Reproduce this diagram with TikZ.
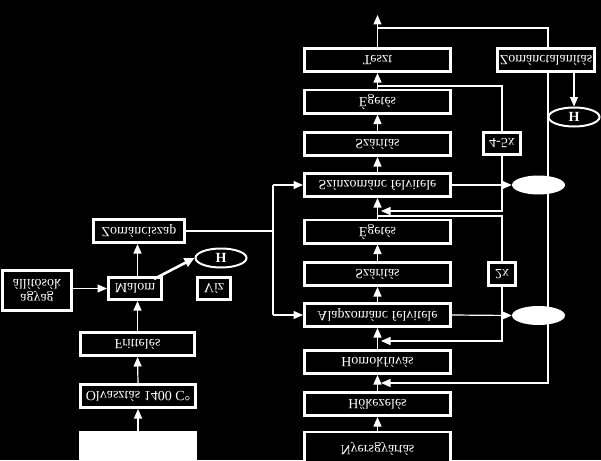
\documentclass[tikz,border=0pt]{standalone}
\usepackage{fontspec}
\setmainfont{Liberation Serif}
\usepackage{graphicx}
\usetikzlibrary{arrows.meta,shapes.geometric}
\pgfdeclarelayer{back}
\pgfdeclarelayer{bg}
\pgfsetlayers{back,bg,main}
\newcommand{\flp}[1]{\scalebox{1}[-1]{#1}}
\begin{document}
\begin{tikzpicture}[x=1pt,y=-1pt,
  box/.style={draw=white, line width=2.6pt, fill=black, text=white, inner sep=0pt, font=\fontsize{14}{16}\selectfont},
  rbox/.style={box, minimum width=146.4pt, minimum height=23.4pt},
  con/.style={draw=white, line width=1.2pt},
  arr/.style={con, -{Triangle[width=8pt,length=9.5pt]}},
  ell/.style={ellipse, draw=white, line width=2pt, fill=black, text=white, inner sep=0pt, font=\fontsize{14}{16}\selectfont\bfseries},
  blob/.style={ellipse, fill=white, inner sep=0pt, minimum width=53pt, minimum height=19pt}]
\begin{pgfonlayer}{back}
\fill[black] (0,0) rectangle (601,460);
\end{pgfonlayer}
\useasboundingbox (0,0) rectangle (601,460);
% right column
\node[rbox] (teszt) at (377.5,60) {\flp{Teszt}};
\node[rbox] (eg1) at (377.5,101.5) {\flp{Égetés}};
\node[rbox] (sz1) at (377.5,144) {\flp{Szárítás}};
\node[rbox] (szin) at (377.5,185) {\flp{Színzománc felvitele}};
\node[rbox] (eg2) at (377.5,231.5) {\flp{Égetés}};
\node[rbox] (sz2) at (377.5,274) {\flp{Szárítás}};
\node[rbox] (alap) at (377.5,315) {\flp{Alapzománc felvitele}};
\node[rbox] (homok) at (377.5,362) {\flp{Homokfúvás}};
\node[rbox] (hok) at (377.5,404) {\flp{Hőkezelés}};
\node[rbox, minimum height=34pt] (nyers) at (377.5,449) {\raisebox{2pt}{\flp{Nyersgyártás}}};
% left column
\node[box, fill=white, minimum width=115.4pt, minimum height=34pt] (feh) at (138,449) {};
\node[box, minimum width=115.4pt, minimum height=23.4pt] (olv) at (138,396) {\flp{Olvasztás 1400 C°}};
\node[box, minimum width=114.4pt, minimum height=23.4pt] (frit) at (137.5,344) {\flp{Frittelés}};
\node[box, minimum width=53.4pt, minimum height=22.4pt] (malom) at (135,288.5) {\flp{Malom}};
\node[box, minimum width=91.4pt, minimum height=23.4pt] (zsz) at (139,231) {\flp{Zománciszap}};
\node[box, minimum width=69.4pt, minimum height=40.4pt, align=center] (allit) at (37,290.5) {\flp{\begin{tabular}{@{}c@{}}agyag\\[-1pt]állítósók\end{tabular}}};
\node[box, minimum width=33.4pt, minimum height=22.4pt] (viz) at (214,288.5) {\flp{Víz}};
\node[ell, minimum width=51pt, minimum height=19pt] (h1) at (221,258) {H};
% right side
\node[box, minimum width=37.4pt, minimum height=22.4pt] (x45) at (502,143.5) {\flp{4-5x}};
\node[box, minimum width=27.4pt, minimum height=23.4pt] (x2) at (502,274) {\flp{2x}};
\node[box, minimum width=97.4pt, minimum height=23.4pt] (zt) at (546,60) {\flp{Zománctalanítás}};
\node[ell, minimum width=51pt, minimum height=19pt] (h2) at (574,117) {H};
\node[blob] (b1) at (538.5,185) {};
\node[blob] (b2) at (538.5,315.5) {};
\coordinate (top) at (377.5,15);
\coordinate (r1) at (548,28);
\coordinate (r2) at (548,383);
\coordinate (l1) at (502,86);
\coordinate (l2) at (502,211);
\coordinate (m1) at (502,216);
\coordinate (m2) at (502,341);
\coordinate (v1) at (273,185);
\coordinate (v2) at (273,315);
\coordinate (ms) at (154,279);
\begin{pgfonlayer}{bg}
% right chain
\draw[arr] (nyers.north) -- (hok.south);
\draw[arr] (hok.north) -- (homok.south);
\draw[arr] (homok.north) -- (alap.south);
\draw[arr] (alap.north) -- (sz2.south);
\draw[arr] (sz2.north) -- (eg2.south);
\draw[arr] (eg2.north) -- (szin.south);
\draw[arr] (szin.north) -- (sz1.south);
\draw[arr] (sz1.north) -- (eg1.south);
\draw[arr] (eg1.north) -- (teszt.south);
\draw[arr] (teszt.north) -- (top);
% loops
\draw[arr] (teszt.north |- r1) -- (r1) -- (r2) -- ([xshift=3.5pt]hok.north |- r2);
\draw[arr] (eg1.north |- l1) -- (l1) -- (l2) -- ([xshift=3.5pt]eg1.north |- l2);
\draw[arr] (eg1.north |- m1) -- (m1) -- (m2) -- ([xshift=3.5pt]eg1.north |- m2);
\draw[arr] (szin.east) -- (b1.west);
\draw[arr] (alap.east) -- (b2.west);
\draw[arr] (h2.north |- zt.south) -- (h2.north);
% left chain
\draw[arr] (feh.north) -- (olv.south);
\draw[arr] (olv.north) -- (frit.south);
\draw[arr] (frit.north) -- (frit.north |- malom.south);
\draw[arr] (frit.north |- malom.north) -- (frit.north |- zsz.south);
\draw[arr] (allit.east |- malom.west) -- (malom.west);
\draw[con] (zsz.east) -- (zsz.east -| v1);
\draw[con] (v1) -- (v2);
\draw[arr] (v1) -- (szin.west);
\draw[arr] (v2) -- (alap.west);
\end{pgfonlayer}
\draw[con, line width=2.6pt, -{Triangle[width=9pt,length=10pt]}] (ms) -- (h1.west);
\end{tikzpicture}
\end{document}
